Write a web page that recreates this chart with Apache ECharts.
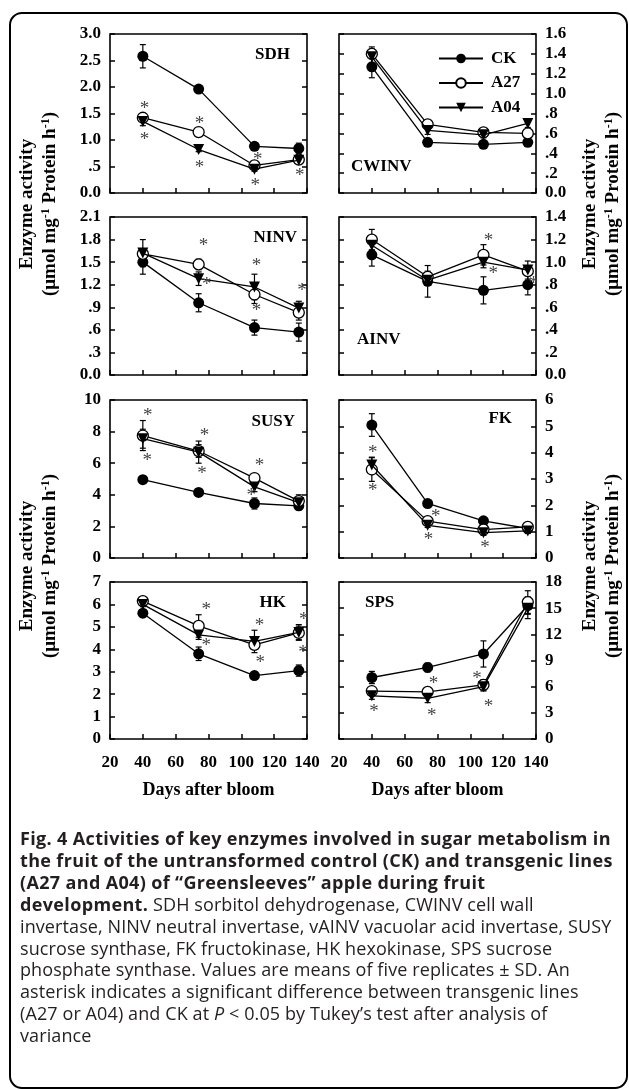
<!DOCTYPE html>
<html lang="en">
<head>
<meta charset="UTF-8">
<title>Fig. 4 Enzyme activities</title>
<script src="https://cdn.jsdelivr.net/npm/echarts@6/dist/echarts.min.js"></script>
<style>
  body { margin: 0; background: #fff; }
  #wrap { position: relative; width: 629px; height: 1090px; }
  #chart { position: absolute; left: 0; top: 0; width: 629px; height: 1090px; }
  #caption {
    position: absolute; left: 20px; top: 828px;
    font-family: "Open Sans", Lato, sans-serif; font-size: 18px; line-height: 21.9px;
    letter-spacing: 0.1px; color: #231f20; white-space: nowrap;
  }
  #caption b { font-weight: 700; letter-spacing: 0.35px; }
</style>
</head>
<body>
<div id="wrap">
  <div id="chart"></div>
  <div id="caption">
    <b>Fig. 4 Activities of key enzymes involved in sugar metabolism in</b><br>
    <b>the fruit of the untransformed control (CK) and transgenic lines</b><br>
    <b>(A27 and A04) of “Greensleeves” apple during fruit</b><br>
    <b>development.</b> SDH sorbitol dehydrogenase, CWINV cell wall<br>
    invertase, NINV neutral invertase, vAINV vacuolar acid invertase, SUSY<br>
    sucrose synthase, FK fructokinase, HK hexokinase, SPS sucrose<br>
    phosphate synthase. Values are means of five replicates ± SD. An<br>
    asterisk indicates a significant difference between transgenic lines<br>
    (A27 or A04) and CK at <i>P</i> &lt; 0.05 by Tukey’s test after analysis of<br>
    variance
  </div>
</div>
<script>
// sampling days and line names
const days = [40, 74, 108, 135];
const lines = ['CK', 'A27', 'A04'];

// SDH
const sdhTicks = [0, 0.5, 1, 1.5, 2, 2.5, 3];
const sdhCK = [2.58, 1.96, 0.88, 0.84];
const sdhA27 = [1.42, 1.15, 0.52, 0.63];
const sdhA04 = [1.35, 0.82, 0.45, 0.62];
const sdhErrCK = [0.22, 0.06, 0.05, 0.1];
const sdhErrA27 = [0.05, 0.05, 0.04, 0.05];
const sdhErrA04 = [0.08, 0.04, 0.04, 0.05];
const sdhStars = [[41, 1.64], [41, 1.05], [74.5, 1.36], [74.5, 0.52], [110, 0.68], [108.5, 0.18], [135.6, 0.38]];

// CWINV
const cwTicks = [0, 0.2, 0.4, 0.6, 0.8, 1, 1.2, 1.4, 1.6];
const cwCK = [1.27, 0.51, 0.49, 0.51];
const cwA27 = [1.40, 0.69, 0.61, 0.60];
const cwA04 = [1.37, 0.63, 0.585, 0.70];
const cwErrCK = [0.11, 0.03, 0.03, 0.03];
const cwErrA27 = [0.05, 0.04, 0.03, 0.04];
const cwErrA04 = [0.1, 0.04, 0.03, 0.04];
const cwStars = [];

// NINV
const ninvTicks = [0, 0.3, 0.6, 0.9, 1.2, 1.5, 1.8, 2.1];
const ninvCK = [1.50, 0.96, 0.63, 0.57];
const ninvA27 = [1.61, 1.47, 1.07, 0.83];
const ninvA04 = [1.62, 1.28, 1.17, 0.89];
const ninvErrCK = [0.16, 0.12, 0.1, 0.12];
const ninvErrA27 = [0.05, 0.07, 0.12, 0.1];
const ninvErrA04 = [0.18, 0.09, 0.17, 0.09];
const ninvStars = [[77, 1.76], [79, 1.23], [109.3, 1.49], [109.3, 0.89], [137, 1.16]];

// AINV
const ainvTicks = [0, 0.2, 0.4, 0.6, 0.8, 1, 1.2, 1.4];
const ainvCK = [1.065, 0.83, 0.75, 0.80];
const ainvA27 = [1.20, 0.87, 1.065, 0.92];
const ainvA04 = [1.15, 0.84, 1.00, 0.93];
const ainvErrCK = [0.1, 0.14, 0.12, 0.09];
const ainvErrA27 = [0.09, 0.05, 0.09, 0.04];
const ainvErrA04 = [0.05, 0.04, 0.05, 0.08];
const ainvStars = [[111, 1.21], [114, 0.92], [138.5, 0.83]];

// SUSY
const susyTicks = [0, 2, 4, 6, 8, 10];
const susyCK = [4.96, 4.15, 3.45, 3.3];
const susyA27 = [7.75, 6.77, 5.06, 3.6];
const susyA04 = [7.55, 6.70, 4.5, 3.5];
const susyErrCK = [0.2, 0.15, 0.35, 0.25];
const susyErrA27 = [0.95, 0.4, 0.25, 0.4];
const susyErrA04 = [0.6, 0.7, 0.3, 0.3];
const susyStars = [[43, 9.17], [42.7, 6.34], [77.6, 7.89], [76, 5.49], [111, 6.02], [106, 4.1]];

// FK
const fkTicks = [0, 1, 2, 3, 4, 5, 6];
const fkCK = [5.05, 2.07, 1.41, 1.12];
const fkA27 = [3.36, 1.40, 1.08, 1.18];
const fkA04 = [3.53, 1.24, 0.96, 1.03];
const fkErrCK = [0.43, 0.1, 0.1, 0.1];
const fkErrA27 = [0.45, 0.1, 0.08, 0.15];
const fkErrA04 = [0.3, 0.08, 0.1, 0.1];
const fkStars = [[40.5, 4.1], [40.5, 2.64], [79, 1.66], [74.5, 0.8], [109, 0.48]];

// HK
const hkTicks = [0, 1, 2, 3, 4, 5, 6, 7];
const hkCK = [5.61, 3.8, 2.83, 3.05];
const hkA27 = [6.15, 5.04, 4.2, 4.73];
const hkA04 = [6.0, 4.64, 4.35, 4.75];
const hkErrCK = [0.15, 0.3, 0.15, 0.25];
const hkErrA27 = [0.1, 0.5, 0.2, 0.3];
const hkErrA04 = [0.1, 0.2, 0.5, 0.35];
const hkStars = [[78.6, 5.9], [78.6, 4.27], [111, 5.17], [111.5, 3.53], [138, 5.46], [137.6, 3.97]];

// SPS
const spsTicks = [0, 3, 6, 9, 12, 15, 18];
const spsCK = [7.05, 8.2, 9.75, 15.3];
const spsA27 = [5.5, 5.4, 6.2, 15.7];
const spsA04 = [4.95, 4.67, 6.0, 15.0];
const spsErrCK = [0.7, 0.5, 1.5, 1.0];
const spsErrA27 = [0.4, 0.5, 0.6, 1.3];
const spsErrA04 = [0.4, 0.5, 0.5, 1.2];
const spsStars = [[41.3, 3.4], [77.5, 6.67], [76.5, 3.0], [104, 7.25], [111, 4.05]];

const panels = [
  { ticks: sdhTicks, dec: true, vals: [sdhCK, sdhA27, sdhA04], errs: [sdhErrCK, sdhErrA27, sdhErrA04], stars: sdhStars },
  { ticks: cwTicks, dec: true, vals: [cwCK, cwA27, cwA04], errs: [cwErrCK, cwErrA27, cwErrA04], stars: cwStars },
  { ticks: ninvTicks, dec: true, vals: [ninvCK, ninvA27, ninvA04], errs: [ninvErrCK, ninvErrA27, ninvErrA04], stars: ninvStars },
  { ticks: ainvTicks, dec: true, vals: [ainvCK, ainvA27, ainvA04], errs: [ainvErrCK, ainvErrA27, ainvErrA04], stars: ainvStars },
  { ticks: susyTicks, dec: false, vals: [susyCK, susyA27, susyA04], errs: [susyErrCK, susyErrA27, susyErrA04], stars: susyStars },
  { ticks: fkTicks, dec: false, vals: [fkCK, fkA27, fkA04], errs: [fkErrCK, fkErrA27, fkErrA04], stars: fkStars },
  { ticks: hkTicks, dec: false, vals: [hkCK, hkA27, hkA04], errs: [hkErrCK, hkErrA27, hkErrA04], stars: hkStars },
  { ticks: spsTicks, dec: false, vals: [spsCK, spsA27, spsA04], errs: [spsErrCK, spsErrA27, spsErrA04], stars: spsStars }
];

const serif = '"Liberation Serif", "Times New Roman", serif';
const colLeft = [110, 339];
const rowTop = [34, 217, 400, 582];
const rowH = [159, 158, 158, 157];
const plotW = 197;

const symbols = [
  { symbol: 'circle', rotate: 0, item: { color: '#000' } },
  { symbol: 'circle', rotate: 0, item: { color: '#fff', borderColor: '#000', borderWidth: 1.3 } },
  { symbol: 'triangle', rotate: 180, item: { color: '#000' } }
];

function fmt(dec) {
  return function (v) {
    if (!dec) return String(v);
    if (v === 0) return '0.0';
    return v.toFixed(1).replace(/^0\./, '.');
  };
}

function errorBar(params, api) {
  const x = api.value(0);
  const lo = api.coord([x, api.value(1)]);
  const hi = api.coord([x, api.value(2)]);
  const st = { stroke: '#000', lineWidth: 1.2 };
  return {
    type: 'group',
    children: [
      { type: 'line', shape: { x1: lo[0], y1: lo[1], x2: hi[0], y2: hi[1] }, style: st },
      { type: 'line', shape: { x1: lo[0] - 3, y1: lo[1], x2: lo[0] + 3, y2: lo[1] }, style: st },
      { type: 'line', shape: { x1: hi[0] - 3, y1: hi[1], x2: hi[0] + 3, y2: hi[1] }, style: st }
    ]
  };
}

function star(params, api) {
  const p = api.coord([api.value(0), api.value(1)]);
  return {
    type: 'text', x: p[0], y: p[1] + 3,
    style: { text: '*', fill: '#444', font: '19px ' + serif, align: 'center', verticalAlign: 'middle' }
  };
}

const grid = [], xAxis = [], yAxis = [], series = [];

panels.forEach(function (p, i) {
  const col = i % 2, row = Math.floor(i / 2);
  const min = p.ticks[0], max = p.ticks[p.ticks.length - 1];
  const interval = p.ticks[1] - p.ticks[0];
  grid.push({ left: colLeft[col], top: rowTop[row], width: plotW, height: rowH[row],
    show: true, borderColor: '#000', borderWidth: 1.6, backgroundColor: 'transparent' });
  const tick = { inside: true, length: 5, lineStyle: { color: '#000', width: 1.5 } };
  xAxis.push({
    gridIndex: i, type: 'value', min: 20, max: 140, interval: 20,
    axisLine: { show: false }, axisTick: tick, splitLine: { show: false },
    axisLabel: row === 3
      ? { show: true, color: '#000', fontFamily: serif, fontWeight: 'bold', fontSize: 17, margin: 15 }
      : { show: false },
    name: row === 3 ? 'Days after bloom' : '',
    nameLocation: 'middle', nameGap: 42,
    nameTextStyle: { color: '#000', fontFamily: serif, fontWeight: 'bold', fontSize: 18 }
  });
  const side = col === 0 ? 'left' : 'right';
  const other = col === 0 ? 'right' : 'left';
  yAxis.push({
    gridIndex: i, type: 'value', position: side, min: min, max: max, interval: interval,
    axisLine: { show: false }, axisTick: tick, splitLine: { show: false },
    axisLabel: { color: '#000', fontFamily: serif, fontWeight: 'bold', fontSize: 17, margin: 9,
      formatter: fmt(p.dec), showMinLabel: true, showMaxLabel: true }
  });
  yAxis.push({
    gridIndex: i, type: 'value', position: other, min: min, max: max, interval: interval,
    axisLine: { show: false }, axisTick: tick, splitLine: { show: false }, axisLabel: { show: false }
  });
  lines.forEach(function (name, k) {
    series.push({
      type: 'custom', xAxisIndex: i, yAxisIndex: 2 * i, silent: true, z: 2,
      renderItem: errorBar, encode: { x: 0, y: [1, 2] },
      data: days.map(function (d, j) { return [d, p.vals[k][j] - p.errs[k][j], p.vals[k][j] + p.errs[k][j]]; })
    });
  });
  lines.forEach(function (name, k) {
    series.push({
      type: 'line', name: name, xAxisIndex: i, yAxisIndex: 2 * i, silent: true, z: 3 + k,
      data: days.map(function (d, j) { return [d, p.vals[k][j]]; }),
      symbol: symbols[k].symbol, symbolRotate: symbols[k].rotate, symbolSize: 11, showAllSymbol: true,
      lineStyle: { color: '#000', width: 1.3 }, itemStyle: symbols[k].item,
      emphasis: { disabled: true }
    });
  });
  series.push({
    type: 'custom', xAxisIndex: i, yAxisIndex: 2 * i, silent: true, z: 7,
    renderItem: star, encode: { x: 0, y: 1 }, data: p.stars
  });
});

const bold17 = 'bold 17px ' + serif;
function panelLabel(text, x, y, align) {
  return { type: 'text', x: x, y: y, style: { text: text, font: bold17, fill: '#000', align: align, verticalAlign: 'middle' } };
}
function yTitle(x, y) {
  return [
    { type: 'text', x: x, y: y, rotation: Math.PI / 2,
      style: { text: 'Enzyme activity', font: 'bold 19px ' + serif, fill: '#000', align: 'center', verticalAlign: 'middle' } },
    { type: 'text', x: x + 23, y: y, rotation: Math.PI / 2,
      style: {
        text: '{a|(μmol mg}{s|-1}{a| Protein h}{s|-1}{a|)}', align: 'center', verticalAlign: 'middle',
        rich: {
          a: { font: 'bold 19px ' + serif, fill: '#000', lineHeight: 20 },
          s: { font: 'bold 12px ' + serif, fill: '#000', verticalAlign: 'top', lineHeight: 20 }
        }
      } }
  ];
}

const graphic = [
  { type: 'rect', shape: { x: 10, y: 13, width: 617, height: 1075, r: 12 },
    style: { fill: 'none', stroke: '#000', lineWidth: 2 }, z: 0 },
  panelLabel('SDH', 290, 55, 'right'),
  panelLabel('CWINV', 351, 167, 'left'),
  panelLabel('NINV', 297, 238, 'right'),
  panelLabel('AINV', 357, 340, 'left'),
  panelLabel('SUSY', 295, 422, 'right'),
  panelLabel('FK', 512, 419, 'right'),
  panelLabel('HK', 286, 603, 'right'),
  panelLabel('SPS', 365, 603, 'left')
].concat(yTitle(27, 204), yTitle(27, 566), yTitle(590, 204), yTitle(590, 566));

const chart = echarts.init(document.getElementById('chart'), null, { renderer: 'canvas' });
chart.setOption({
  animation: false,
  backgroundColor: '#fff',
  legend: {
    data: lines, orient: 'vertical', left: 433, top: 45, itemWidth: 44, itemHeight: 12, itemGap: 7.5,
    selectedMode: false,
    textStyle: { color: '#000', fontFamily: serif, fontWeight: 'bold', fontSize: 17, padding: [0, 0, 0, 3] }
  },
  grid: grid,
  xAxis: xAxis,
  yAxis: yAxis,
  series: series,
  graphic: graphic
});
</script>
</body>
</html>
